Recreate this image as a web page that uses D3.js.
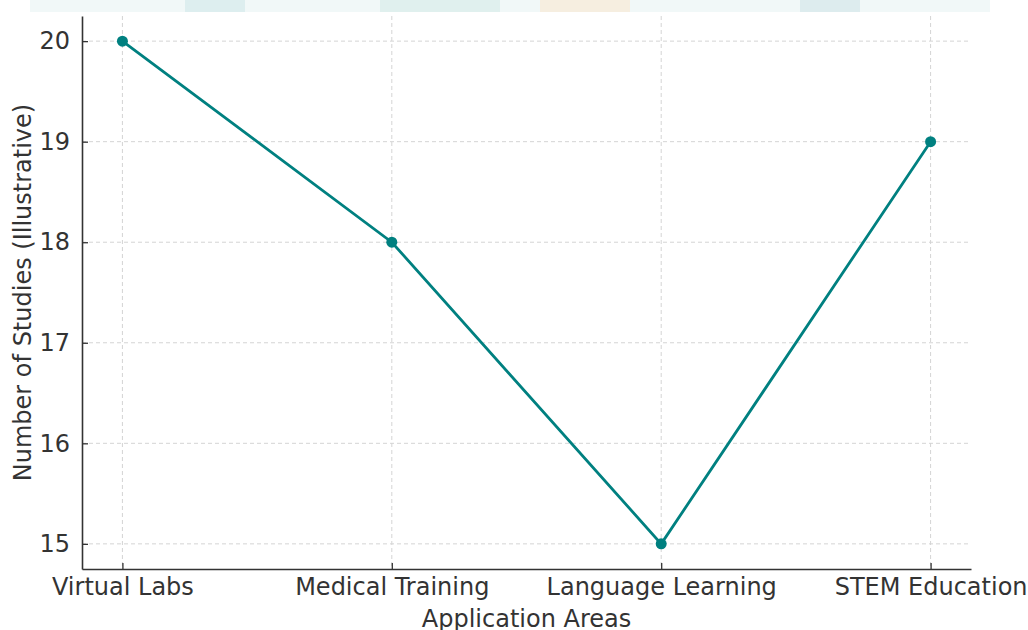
<!DOCTYPE html>
<html>
<head>
<meta charset="utf-8">
<script src="https://cdn.jsdelivr.net/npm/d3@7"></script>
<style>
  body { margin: 0; background: #fff; overflow: hidden; }
  text { font-family: "DejaVu Sans", sans-serif; fill: #333; }
</style>
</head>
<body>
<svg id="chart" width="1028" height="630"></svg>
<script>
var categories = ["Virtual Labs", "Medical Training", "Language Learning", "STEM Education"];
var studies = [20, 18, 15, 19];
var yTicks = [15, 16, 17, 18, 19, 20];

var svg = d3.select("#chart");
var plotLeft = 82, plotRight = 971, plotTop = 16, plotBottom = 569;

// faint background picture strip at the top
var strip = svg.append("g").attr("opacity", 0.35);
strip.append("rect").attr("x", 30).attr("y", 0).attr("width", 960).attr("height", 12).attr("fill", "#d9ecec");
strip.append("rect").attr("x", 185).attr("y", 0).attr("width", 60).attr("height", 12).attr("fill", "#9fcfd3");
strip.append("rect").attr("x", 380).attr("y", 0).attr("width", 120).attr("height", 12).attr("fill", "#a8d5cf");
strip.append("rect").attr("x", 540).attr("y", 0).attr("width", 90).attr("height", 12).attr("fill", "#e6cfa8");
strip.append("rect").attr("x", 800).attr("y", 0).attr("width", 60).attr("height", 12).attr("fill", "#9fc9cf");

var x = d3.scaleLinear().domain([-0.15, 3.15]).range([plotLeft, plotRight]);
var y = d3.scaleLinear().domain([14.75, 20.25]).range([plotBottom, plotTop]);

// grid
svg.append("g").selectAll("line").data(yTicks).enter().append("line")
  .attr("x1", plotLeft).attr("x2", plotRight)
  .attr("y1", function(d){ return y(d); }).attr("y2", function(d){ return y(d); })
  .attr("stroke", "#d4d4d4").attr("stroke-dasharray", "4,3").attr("stroke-width", 1);
svg.append("g").selectAll("line").data(categories).enter().append("line")
  .attr("y1", plotTop).attr("y2", plotBottom)
  .attr("x1", function(d, i){ return x(i); }).attr("x2", function(d, i){ return x(i); })
  .attr("stroke", "#d4d4d4").attr("stroke-dasharray", "4,3").attr("stroke-width", 1);

// axes
var xAxis = d3.axisBottom(x).tickValues(d3.range(categories.length))
  .tickFormat(function(i){ return categories[i]; }).tickSizeInner(-6).tickSizeOuter(0).tickPadding(9);
var gx = svg.append("g").attr("transform", "translate(0," + plotBottom + ")").call(xAxis);
var yAxis = d3.axisLeft(y).tickValues(yTicks).tickFormat(d3.format("d"))
  .tickSizeInner(-6).tickSizeOuter(0).tickPadding(12);
var gy = svg.append("g").attr("transform", "translate(" + plotLeft + ",0)").call(yAxis);

[gx, gy].forEach(function(g){
  g.select(".domain").attr("stroke", "#333").attr("stroke-width", 1.6);
  g.selectAll(".tick line").attr("stroke", "#333").attr("stroke-width", 1.3);
  g.selectAll(".tick text").style("font-size", "24px").attr("fill", "#333");
});
gx.selectAll(".tick text").attr("dy", "0.7em");

// line + points
var line = d3.line()
  .x(function(d, i){ return x(i); })
  .y(function(d){ return y(d); });
svg.append("path").datum(studies)
  .attr("d", line).attr("fill", "none")
  .attr("stroke", "#008080").attr("stroke-width", 2.8);
svg.append("g").selectAll("circle").data(studies).enter().append("circle")
  .attr("cx", function(d, i){ return x(i); })
  .attr("cy", function(d){ return y(d); })
  .attr("r", 5.5).attr("fill", "#008080");

// labels
svg.append("text").attr("x", (plotLeft + plotRight) / 2).attr("y", 627)
  .attr("text-anchor", "middle").style("font-size", "24px").text("Application Areas");
svg.append("text")
  .attr("transform", "translate(31," + ((plotTop + plotBottom) / 2) + ") rotate(-90)")
  .attr("text-anchor", "middle").style("font-size", "24px")
  .text("Number of Studies (Illustrative)");
</script>
</body>
</html>
